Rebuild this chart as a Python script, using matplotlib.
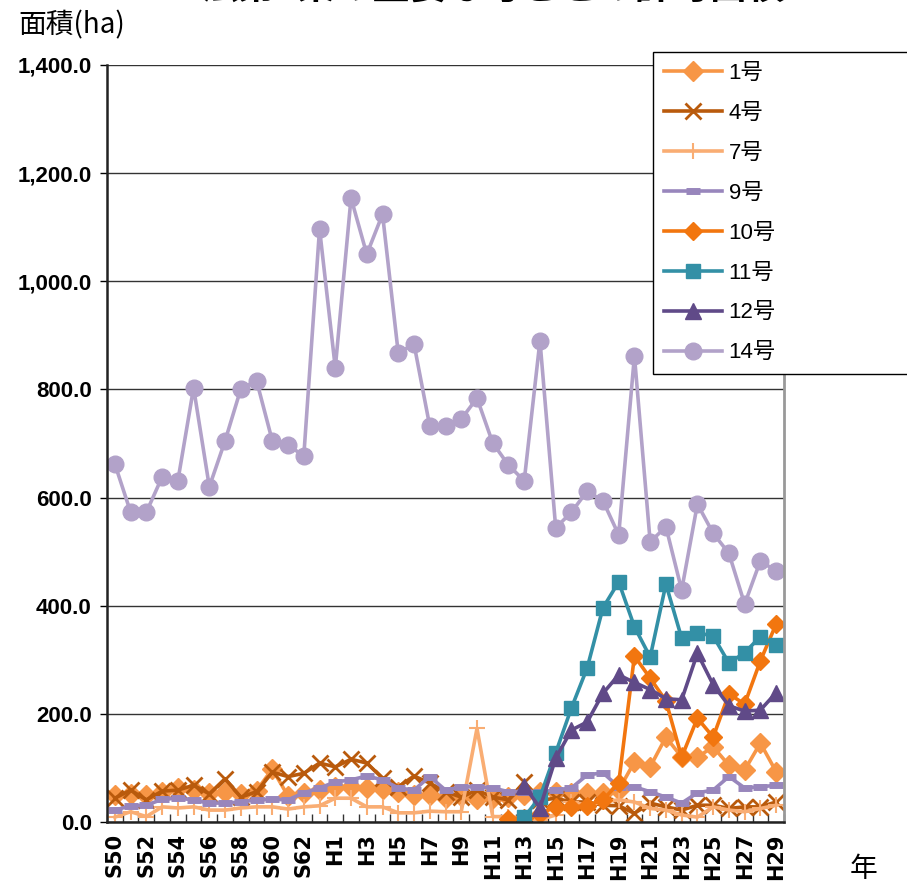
import numpy as np
import matplotlib
matplotlib.use("Agg")
import matplotlib.pyplot as plt
from matplotlib.ticker import FixedLocator, FuncFormatter

nan = np.nan

# 年度 (昭和50年〜平成29年)
years = ["S%d" % y for y in range(50, 64)] + ["H%d" % y for y in range(1, 30)]

go1 = [50, 52, 50, 55, 63, 60, 54, 56, 52, 58, 98, 48, 54, 60,
       65, 65, 63, 61, 56, 50, 50, 44, 48, 42, 45, 46, 50, 55, 55, 54,
       54, 54, 59, 111, 102, 157, 120, 120, 139, 105, 96, 146, 93]
go4 = [44, 59, 41, 57, 59, 68, 52, 80, 46, 56, 92, 84, 90, 109,
       102, 116, 109, 81, 65, 85, 72, 56, 46, 59, 46, 41, 74, 40, 44, 37,
       37, 31, 30, 16, 35, 28, 22, 31, 31, 25, 28, 28, 37]
go7 = [9, 19, 10, 28, 26, 28, 22, 22, 26, 28, 28, 24, 28, 30,
       44, 44, 28, 28, 17, 17, 20, 19, 19, 173, 10, 10, 7, 4, 13, 37,
       31, 37, 41, 37, 25, 22, 13, 9, 28, 22, 19, 25, 31]
go9 = [22, 30, 31, 42, 44, 41, 35, 35, 37, 41, 42, 41, 54, 63,
       74, 78, 85, 78, 63, 59, 84, 59, 65, 65, 63, 56, 56, 56, 59, 63,
       87, 91, 65, 65, 56, 46, 35, 54, 59, 84, 63, 65, 68]
go10 = [nan] * 25 + [5, 8, 15, 28, 28, 30, 41, 72,
                     307, 266, 224, 120, 192, 157, 237, 218, 298, 366]
go11 = [nan] * 26 + [9, 46, 128, 211, 285, 396, 444,
                     361, 305, 440, 340, 350, 344, 294, 313, 343, 327]
go12 = [nan] * 26 + [67, 26, 118, 170, 185, 238, 272,
                     258, 245, 228, 226, 312, 254, 215, 205, 207, 239]
go14 = [662, 573, 573, 638, 631, 803, 620, 705, 801, 816, 705, 697, 677, 1097,
        840, 1154, 1050, 1124, 867, 884, 732, 732, 745, 784, 701, 660, 631, 890, 544, 573,
        612, 594, 531, 862, 518, 546, 429, 588, 534, 497, 403, 483, 464]

series = [
    ("1号", go1, "#F79646", "D", 10, 1),
    ("4号", go4, "#B95A0C", "x", 11, 2),
    ("7号", go7, "#F9AD73", "+", 12, 1.5),
    ("9号", go9, "#9886BC", "_", 10, 5),
    ("10号", go10, "#F2760F", "D", 9, 1),
    ("11号", go11, "#3390A6", "s", 10, 1),
    ("12号", go12, "#604A88", "^", 11, 1),
    ("14号", go14, "#B2A2C9", "o", 12, 1),
]

fig = plt.figure(figsize=(9.07, 8.85), dpi=100)
ax = fig.add_axes([107 / 907, 1 - 822 / 885, 677 / 907, 757 / 885])

x = np.arange(len(years))
for name, vals, col, mk, ms, mew in series:
    ax.plot(x, vals, color=col, lw=2.6, marker=mk, markersize=ms,
            markeredgewidth=mew, markeredgecolor=col, markerfacecolor=col,
            label=name)

ax.set_xlim(-0.5, len(years) - 0.5)
ax.set_ylim(0, 1400)

ax.yaxis.set_major_locator(FixedLocator(np.arange(0, 1401, 200)))
ax.yaxis.set_major_formatter(FuncFormatter(lambda v, p: "{:,.1f}".format(v)))
ax.grid(axis="y", color="#333333", lw=1)
ax.set_axisbelow(True)
ax.tick_params(axis="y", direction="out", length=5, width=1, pad=6)
for lab in ax.get_yticklabels():
    lab.set_fontfamily("Liberation Sans")
    lab.set_fontweight("bold")
    lab.set_fontsize(16)

ax.set_xticks(x[::2])
ax.set_xticklabels(years[::2], rotation=90, fontfamily="DejaVu Sans",
                   fontweight="bold", fontsize=15, va="top")
ax.set_xticks(np.arange(-0.5, len(years)), minor=True)
ax.tick_params(axis="x", which="major", length=0, pad=8)
ax.tick_params(axis="x", which="minor", direction="in", length=6, width=1, color="#333333")

for s in ["left", "bottom"]:
    ax.spines[s].set_color("#222222")
    ax.spines[s].set_linewidth(1.8)
ax.spines["right"].set_color("#999999")
ax.spines["right"].set_linewidth(2)
ax.spines["top"].set_visible(False)

cjk = ["Liberation Sans", "Noto Sans CJK JP"]
leg = fig.legend(loc="upper left", bbox_to_anchor=(653 / 907, 0.0, 0.32, 1 - 52 / 885),
                 mode="expand", prop={"family": cjk, "size": 16},
                 handlelength=2.6, labelspacing=0.85, borderpad=0.5,
                 handletextpad=0.3, borderaxespad=0, fancybox=False, framealpha=1)
leg.get_frame().set_edgecolor("#000000")
leg.get_frame().set_linewidth(1)

fig.text(18 / 907, 1 - 40 / 885, "面積(ha)", fontfamily=["Noto Sans CJK JP"], fontsize=20,
         va="bottom", ha="left")
fig.text(850 / 907, 1 - 884 / 885, "年", fontfamily=["Noto Sans CJK JP"], fontsize=20,
         va="bottom", ha="left")
fig.text(493 / 907, 1 - 8 / 885, "法第5条の主要な号ごとの許可面積",
         fontfamily=["Noto Sans CJK JP"], fontsize=27, fontweight="bold",
         va="bottom", ha="center")

fig.savefig("out.png", dpi=100)
